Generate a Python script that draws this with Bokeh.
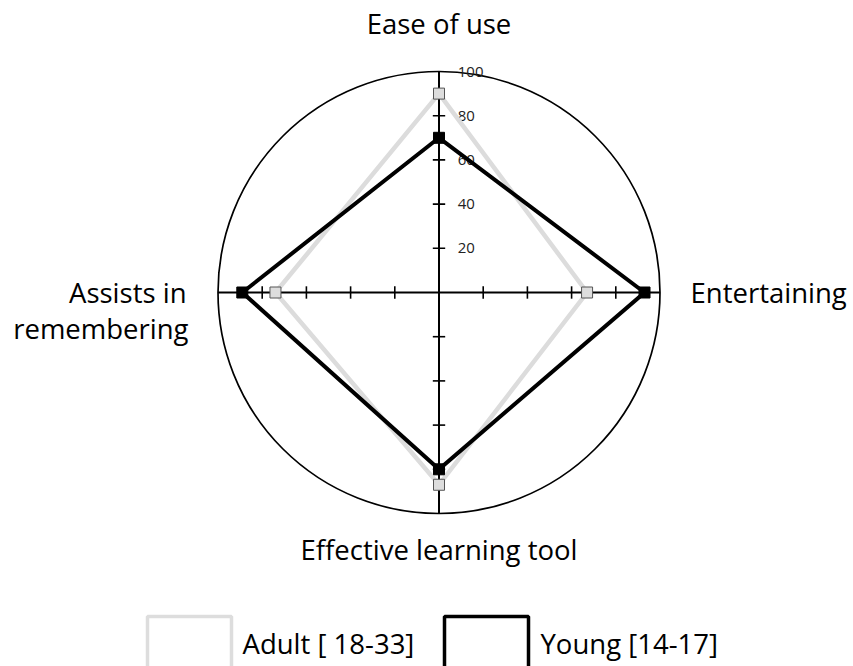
import numpy as np
from bokeh.plotting import figure
from bokeh.models import Range1d
from bokeh.core.properties import value
from bokeh.embed import file_html
from bokeh.resources import INLINE

categories = ["Ease of use", "Entertaining", "Effective learning tool", "Assists in remembering"]
adult = [90, 67, 87, 74]
young = [70, 93, 80, 89]
tick_values = [20, 40, 60, 80, 100]
tick_labels = ["20", "40", "60", "80", "100"]
series_names = ["Adult [ 18-33]", "Young [14-17]"]

FONT = value("Open Sans")
FS = "27.5px"
W, H = 853, 666
S = 2.21  # px per unit
cx, cy = 438.5, 292
p = figure(width=W, height=H, output_backend="svg", toolbar_location=None,
           x_range=Range1d(-cx / S, (W - cx) / S), y_range=Range1d(-(H - cy) / S, cy / S),
           min_border=0)
p.axis.visible = False
p.grid.visible = False
p.outline_line_color = None

angles = np.deg2rad([90, 0, 270, 180])

# outer circle
p.circle(x=[0], y=[0], radius=100, fill_color=None, line_color="black", line_width=1.7)

# axes
p.segment(x0=[-100, 0], y0=[0, -100], x1=[100, 0], y1=[0, 100], line_color="black", line_width=2)

# tick marks
tk = [20, 40, 60, 80]
tl = 2.8
xs0, ys0, xs1, ys1 = [], [], [], []
for t in tk:
    for sgn in (1, -1):
        xs0.append(sgn * t); xs1.append(sgn * t); ys0.append(-tl); ys1.append(tl)
        ys0.append(sgn * t); ys1.append(sgn * t); xs0.append(-tl); xs1.append(tl)
p.segment(x0=xs0, y0=ys0, x1=xs1, y1=ys1, line_color="black", line_width=1.6)

# tick labels
p.text(x=[8.5] * len(tick_values), y=tick_values, text=tick_labels, text_font=FONT,
       text_font_size="15px", text_baseline="middle", text_align="left", text_color="#222222")

def poly(vals):
    x = [v * np.cos(a) for v, a in zip(vals, angles)]
    y = [v * np.sin(a) for v, a in zip(vals, angles)]
    return x, y

ax, ay = poly(adult)
p.line(ax + ax[:1], ay + ay[:1], line_color="#dcdcdc", line_width=4.5, line_join="miter")
p.scatter(ax, ay, marker="square", size=11, fill_color="#dddddd", line_color="#555555", line_width=1)

yx, yy = poly(young)
p.line(yx + yx[:1], yy + yy[:1], line_color="black", line_width=4, line_join="miter")
p.scatter(yx, yy, marker="square", size=11, fill_color="black", line_color="black")

# category labels (baseline positions, compensated for renderer offset)
OFF = 10
def py(v):
    return (cy - v) / S

def px(v):
    return (v - cx) / S

p.text(x=[0], y=[py(33 - OFF)], text=[categories[0]], text_font=FONT, text_font_size=FS,
       text_align="center", text_baseline="alphabetic", text_color="black")
p.text(x=[px(690)], y=[py(302 - OFF)], text=[categories[1]], text_font=FONT, text_font_size=FS,
       text_align="left", text_baseline="alphabetic", text_color="black")
p.text(x=[0], y=[py(559 - OFF)], text=[categories[2]], text_font=FONT, text_font_size=FS,
       text_align="center", text_baseline="alphabetic", text_color="black")
parts = categories[3].split(" ")
p.text(x=[px(186), px(188)], y=[py(302 - OFF), py(338 - OFF)], text=[" ".join(parts[:2]), parts[2]],
       text_font=FONT, text_font_size=FS, text_align="right", text_baseline="alphabetic",
       text_color="black")

# legend
p.quad(left=[px(147)], right=[px(231)], top=[py(616)], bottom=[py(720)], fill_color=None,
       line_color="#dddddd", line_width=3.5)
p.quad(left=[px(444)], right=[px(528)], top=[py(616)], bottom=[py(720)], fill_color=None,
       line_color="black", line_width=3.5)
p.text(x=[px(242), px(540)], y=[py(653 - OFF), py(653 - OFF)], text=series_names, text_font=FONT,
       text_font_size=FS, text_align="left", text_baseline="alphabetic", text_color="black")

open("out.html", "w").write(file_html(p, INLINE))
